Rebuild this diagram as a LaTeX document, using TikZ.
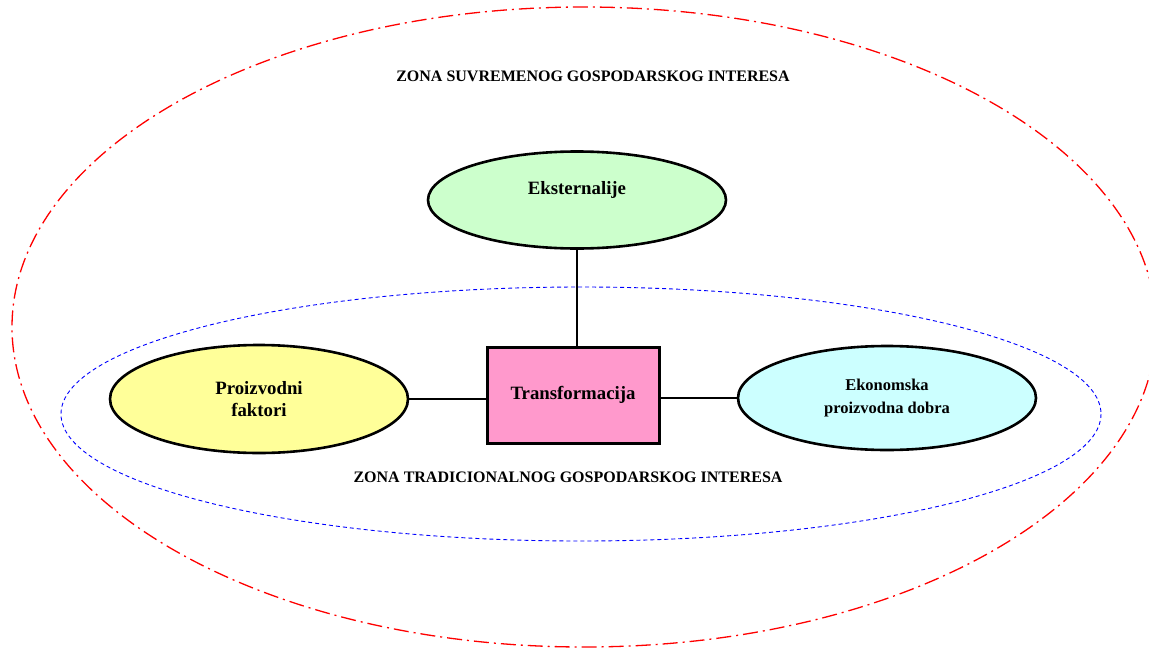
\documentclass[tikz,border=0pt]{standalone}
\usepackage{fontspec}
\setmainfont{Liberation Serif}
\usepackage{xcolor}
\usetikzlibrary{shapes.geometric}
\definecolor{zgreen}{HTML}{CCFFCC}
\definecolor{zyellow}{HTML}{FFFF99}
\definecolor{zcyan}{HTML}{CCFFFF}
\definecolor{zpink}{HTML}{FF99CC}
\tikzset{
  zmap/.style={x=1pt, y=-1pt, font=\bfseries\fontsize{18.8}{22}\selectfont},
  z oval/.style={draw, ellipse, line width=2.6pt, align=center, minimum width=298pt, inner sep=0pt},
  z box/.style={draw, rectangle, line width=3pt, fill=zpink, minimum width=172pt, minimum height=96pt, align=center},
  z link/.style={line width=1.2pt},
  z outer/.style={red, line width=1.3pt, dash pattern=on 15pt off 5pt on 2pt off 5pt},
  z inner/.style={blue, line width=0.9pt, dash pattern=on 4pt off 3pt},
  z title/.style={font=\bfseries\fontsize{16}{18}\selectfont},
}
\begin{document}
\begin{tikzpicture}[zmap]
\useasboundingbox (0,0) rectangle (1149,648);
% ---- zones ----
\draw[z outer] (584,327) ellipse (572 and 320);
\draw[z inner] (581,414) ellipse (520 and 127);
\node[z title] (zs) at (593,76) {ZONA SUVREMENOG GOSPODARSKOG INTERESA};
\node[z title] (zt) at (568,477) {ZONA TRADICIONALNOG GOSPODARSKOG INTERESA};
% ---- blocks ----
\node[z oval, fill=zgreen, minimum height=97pt] (ext) at (577,200) {Eksternalije\\[2pt]};
\node[z box] (trf) at (573,395) {Transformacija};
\node[z oval, fill=zyellow, minimum height=108pt] (pf) at (259,399) {Proizvodni\\faktori};
\node[z oval, fill=zcyan, minimum height=104pt, font=\bfseries\fontsize{16.5}{23}\selectfont] (epd) at (887,398) {Ekonomska\\proizvodna dobra};
% ---- links ----
\draw[z link] (ext.south) -- (ext.south |- trf.north);
\draw[z link] (pf.east) -- (pf.east -| trf.west);
\draw[z link] (trf.east |- epd.west) -- (epd.west);
\end{tikzpicture}
\end{document}
